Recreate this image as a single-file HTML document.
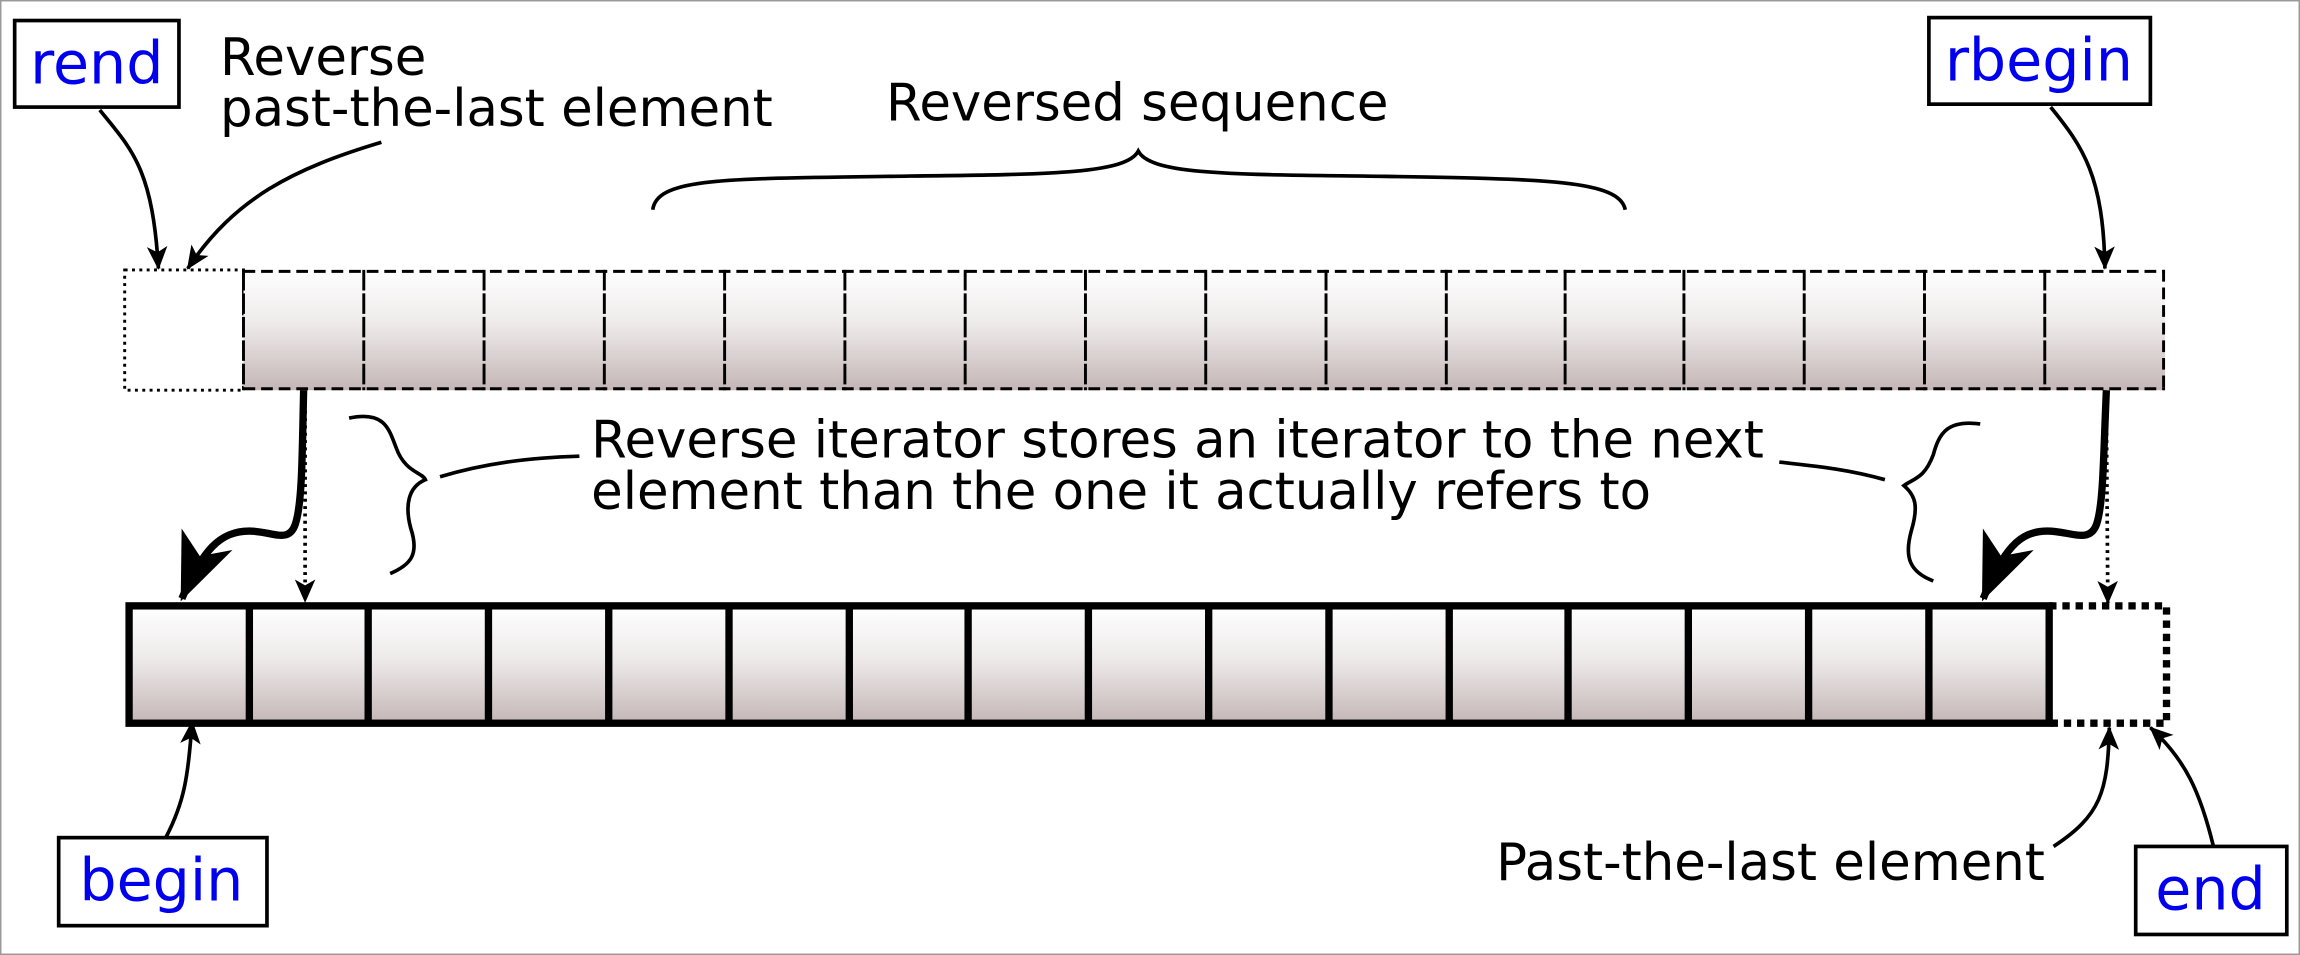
<!DOCTYPE html>
<html><head><meta charset="utf-8"><style>
html,body{margin:0;padding:0;background:#fff}
svg{display:block}
text{font-family:"DejaVu Sans","Liberation Sans",sans-serif}
</style></head><body>
<svg width="2300" height="955" viewBox="0 0 1568 651" preserveAspectRatio="none" xmlns="http://www.w3.org/2000/svg">
<defs>
<linearGradient id="g" x1="0" y1="0" x2="0" y2="1">
<stop offset="0" stop-color="#ffffff"/><stop offset="0.45" stop-color="#eeeaea"/><stop offset="1" stop-color="#c4b6b6"/>
</linearGradient>
<marker id="a" markerWidth="16" markerHeight="16" refX="15" refY="7" orient="auto" markerUnits="userSpaceOnUse" viewBox="0 0 16 14">
<path d="M0,0 L16,7 L0,14 L4,7 Z" fill="#000"/></marker>
<marker id="ab" markerWidth="46" markerHeight="46" refX="42" refY="18" orient="auto" markerUnits="userSpaceOnUse" viewBox="0 0 44 36">
<path d="M0,0 L44,18 L0,36 L12,18 Z" fill="#000"/></marker>
</defs>
<rect x="0.5" y="0.5" width="1567" height="650" fill="#fff" stroke="#999" stroke-width="1"/>

<rect x="85" y="184" width="81" height="82" fill="#fff" stroke="#000" stroke-width="2" stroke-dasharray="2,3"/>
<rect x="166" y="184" width="1310" height="82" fill="url(#g)"/>
<g stroke="#000" stroke-width="2" stroke-dasharray="8,4">
<line x1="166" y1="185" x2="1476" y2="185"/>
<line x1="166" y1="265" x2="1476" y2="265"/>
<line x1="1475" y1="184" x2="1475" y2="266"/>
</g>
<g stroke="#000" stroke-width="2" stroke-dasharray="14,2">
<line x1="248" y1="184" x2="248" y2="266"/><line x1="330" y1="184" x2="330" y2="266"/>
<line x1="412" y1="184" x2="412" y2="266"/><line x1="494" y1="184" x2="494" y2="266"/>
<line x1="576" y1="184" x2="576" y2="266"/><line x1="658" y1="184" x2="658" y2="266"/>
<line x1="740" y1="184" x2="740" y2="266"/><line x1="822" y1="184" x2="822" y2="266"/>
<line x1="904" y1="184" x2="904" y2="266"/><line x1="986" y1="184" x2="986" y2="266"/>
<line x1="1067" y1="184" x2="1067" y2="266"/><line x1="1148" y1="184" x2="1148" y2="266"/>
<line x1="1230" y1="184" x2="1230" y2="266"/><line x1="1312" y1="184" x2="1312" y2="266"/>
<line x1="1394" y1="184" x2="1394" y2="266"/><line x1="166" y1="184" x2="166" y2="266"/>
</g>

<rect x="88" y="413" width="1309" height="80" fill="url(#g)" stroke="#000" stroke-width="5"/>
<g stroke="#000" stroke-width="5">
<line x1="170" y1="413" x2="170" y2="493"/><line x1="251" y1="413" x2="251" y2="493"/>
<line x1="333" y1="413" x2="333" y2="493"/><line x1="415" y1="413" x2="415" y2="493"/>
<line x1="497" y1="413" x2="497" y2="493"/><line x1="579" y1="413" x2="579" y2="493"/>
<line x1="660" y1="413" x2="660" y2="493"/><line x1="742" y1="413" x2="742" y2="493"/>
<line x1="824" y1="413" x2="824" y2="493"/><line x1="906" y1="413" x2="906" y2="493"/>
<line x1="988" y1="413" x2="988" y2="493"/><line x1="1069" y1="413" x2="1069" y2="493"/>
<line x1="1151" y1="413" x2="1151" y2="493"/><line x1="1233" y1="413" x2="1233" y2="493"/>
<line x1="1315" y1="413" x2="1315" y2="493"/>
</g>
<path d="M1397,413 L1477,413 L1477,493 L1397,493" fill="none" stroke="#000" stroke-width="5" stroke-dasharray="5,4"/>

<rect x="10" y="14" width="112" height="59" fill="#fff" stroke="#000" stroke-width="2.5"/>
<text x="66" y="57" font-size="40" fill="#0000ee" text-anchor="middle">rend</text>
<rect x="1315" y="12" width="151" height="59" fill="#fff" stroke="#000" stroke-width="2.5"/>
<text x="1390" y="55" font-size="40" fill="#0000ee" text-anchor="middle">rbegin</text>
<rect x="40" y="571" width="142" height="60" fill="#fff" stroke="#000" stroke-width="2.5"/>
<text x="110" y="614" font-size="40" fill="#0000ee" text-anchor="middle">begin</text>
<rect x="1456" y="577" width="103" height="60" fill="#fff" stroke="#000" stroke-width="2.5"/>
<text x="1507" y="620" font-size="40" fill="#0000ee" text-anchor="middle">end</text>

<g font-size="35" fill="#000">
<text x="150" y="51">Reverse</text>
<text x="150" y="86">past-the-last element</text>
<text x="604" y="82">Reversed sequence</text>
<text x="403" y="312">Reverse iterator stores an iterator to the next</text>
<text x="403" y="347">element than the one it actually refers to</text>
<text x="1020" y="600">Past-the-last element</text>
</g>

<g fill="none" stroke="#000" stroke-width="2.5">
<path d="M445,143 C448,120 500,122 620,120 C720,119 768,118 776,103 C784,118 830,119 930,120 C1050,122 1104,122 1108,143"/>
<path d="M238,285 C262,280 265,292 270,305 C276,322 288,322 290,327 C278,332 276,345 280,360 C286,378 280,385 266,391"/>
<path d="M300,325 C330,316 360,312 395,311"/>
<path d="M1350,289 C1328,286 1322,295 1318,310 C1312,326 1305,326 1298,331 C1306,338 1308,345 1303,362 C1298,380 1302,390 1318,396"/>
<path d="M1285,327 C1260,320 1240,318 1213,315"/>
</g>

<g fill="none" stroke="#000" stroke-width="2.5" marker-end="url(#a)">
<path d="M68,75 C90,102 104,115 108,183"/>
<path d="M260,97 C200,115 160,135 128,183"/>
<path d="M1398,73 C1420,100 1434,120 1435,183"/>
<path d="M113,571 C126,546 128,530 131,492"/>
<path d="M1400,577 C1432,556 1437,540 1438,496"/>
<path d="M1509,577 C1500,540 1490,518 1466,496"/>
</g>
<g fill="none" stroke="#000" stroke-width="2.5" stroke-dasharray="2,3" marker-end="url(#a)">
<path d="M208,280 L208,410"/>
<path d="M1436,280 L1437,411"/>
</g>
<g fill="none" stroke="#000" stroke-width="5" marker-end="url(#ab)">
<path d="M207,266 C206,310 206,340 202,355 C198,372 186,362 170,362 C150,362 138,375 124,408"/>
<path d="M1436,266 C1434,310 1434,340 1430,355 C1426,372 1412,362 1396,362 C1376,362 1366,375 1352,408"/>
</g>
</svg>
</body></html>
